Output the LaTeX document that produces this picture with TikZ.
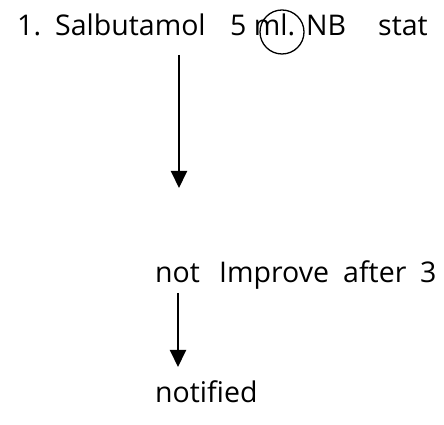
\documentclass[tikz,border=0pt]{standalone}
\usepackage{fontspec}
\setmainfont{Open Sans}
\usetikzlibrary{arrows.meta}
\begin{document}
\begin{tikzpicture}[x=1pt,y=1pt,
  txt/.style={anchor=base west,inner sep=0pt,font=\fontsize{28.5}{32}\selectfont},
  conn/.style={line width=2pt,-{Triangle[length=17pt,width=16pt]}}]
\useasboundingbox (0,0) rectangle (444,425);
\node[txt] (one) at (17,389) {1.};
\node[txt] (salb) at (55,389) {Salbutamol};
\node[txt] (five) at (230,389) {5 ml.};
\node[txt] (nb) at (306,389) {NB};
\node[txt] (stat) at (378,389) {stat};
\draw[line width=1.3pt] (282,393) circle (22);
\coordinate (a1s) at (179,370);
\coordinate (a1e) at (179,237);
\draw[conn] (a1s) -- (a1e);
\node[txt] (not) at (155,142) {not};
\node[txt] (impr) at (219,142) {Improve};
\node[txt] (after) at (343,142) {after};
\node[txt] (three) at (420,142) {3};
\coordinate (a2s) at (178,132);
\coordinate (a2e) at (178,58);
\draw[conn] (a2s) -- (a2e);
\node[txt] (notif) at (155,22) {notified};
\end{tikzpicture}
\end{document}
